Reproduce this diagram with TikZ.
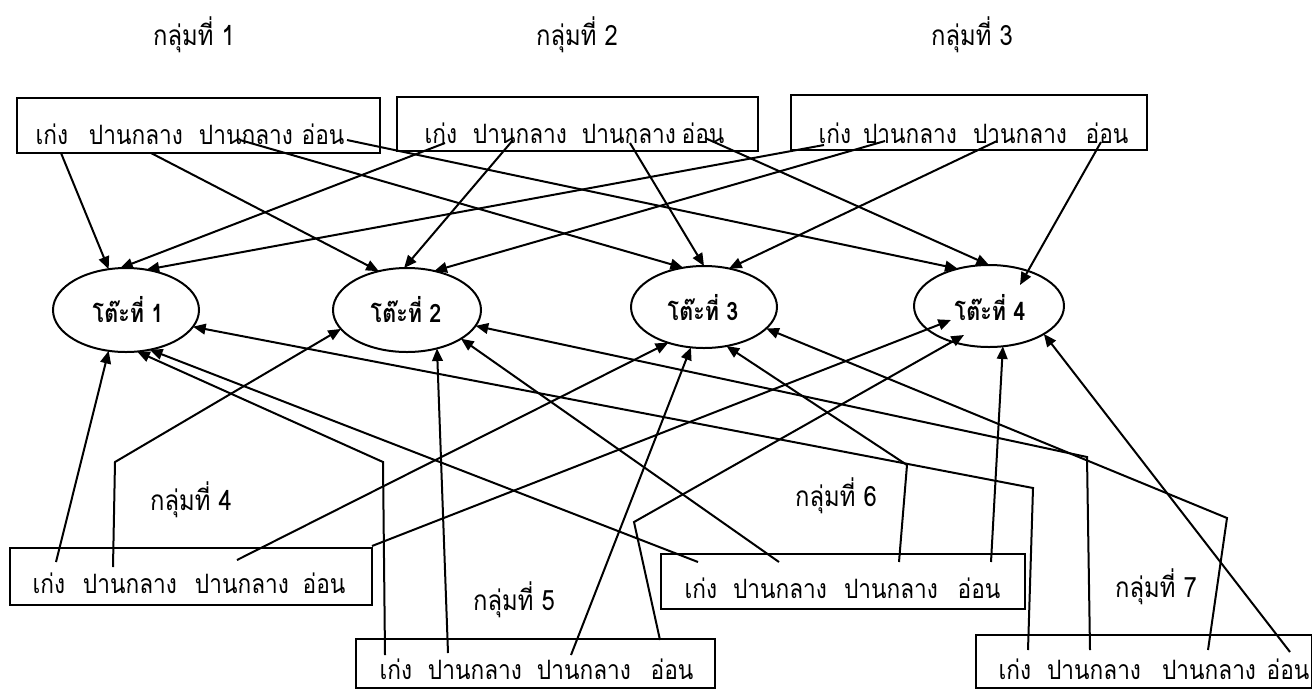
\documentclass[tikz,border=0pt]{standalone}
\usepackage{fontspec}
\newfontfamily\thai[Script=Thai,FakeStretch=0.85]{Loma}
\usetikzlibrary{arrows.meta,shapes.geometric}
\begin{document}
\begin{tikzpicture}[x=0.75pt,y=-0.75pt,
  ln/.style={line width=1.5pt},
  arr/.style={ln,-{Triangle[length=9.5pt,width=8pt]}},
  boxst/.style 2 args={draw,line width=1.5pt,inner sep=0pt,outer sep=0pt,
     minimum width=#1*0.75pt,minimum height=#2*0.75pt},
  tbl/.style 2 args={draw,ellipse,line width=1.5pt,inner sep=0pt,outer sep=0pt,
     minimum width=#1*0.75pt,minimum height=#2*0.75pt},
  word/.style={anchor=base,inner sep=0pt,font=\thai\fontsize{20}{22}\selectfont},
  grp/.style={anchor=base,inner sep=0pt,font=\thai\fontsize{21}{24}\selectfont},
  ttxt/.style={anchor=base,inner sep=0pt,font=\thai\bfseries\fontsize{19}{21}\selectfont}
]
\useasboundingbox (0,0) rectangle (1312,690);
\clip (0,0) rectangle (1312,690);

% group labels
\node[grp] (g1) at (194,45) {กลุ่มที่ 1};
\node[grp] (g2) at (577,45) {กลุ่มที่ 2};
\node[grp] (g3) at (972,45) {กลุ่มที่ 3};
\node[grp] (g4) at (191,510) {กลุ่มที่ 4};
\node[grp] (g5) at (514,610) {กลุ่มที่ 5};
\node[grp] (g6) at (836,506) {กลุ่มที่ 6};
\node[grp] (g7) at (1156,597) {กลุ่มที่ 7};

% boxes
\node[boxst={363}{55}] (B1) at (198.5,125.5) {};
\node[boxst={361}{54}] (B2) at (577.5,124) {};
\node[boxst={356}{55}] (B3) at (969,122.5) {};
\node[boxst={362}{57}] (B4) at (191,576.5) {};
\node[boxst={359}{49}] (B5) at (535.5,663.5) {};
\node[boxst={364}{55}] (B6) at (843,581.5) {};
\node[boxst={336}{53}] (B7) at (1144,661.5) {};

% words
\node[word] (w1a) at (52,144) {เก่ง};
\node[word] (w1b) at (136,144) {ปานกลาง};
\node[word] (w1c) at (246,144) {ปานกลาง};
\node[word] (w1d) at (323,144) {อ่อน};
\node[word] (w2a) at (441,143) {เก่ง};
\node[word] (w2b) at (520,143) {ปานกลาง};
\node[word] (w2c) at (629,143) {ปานกลาง};
\node[word] (w2d) at (703,143) {อ่อน};
\node[word] (w3a) at (835,143) {เก่ง};
\node[word] (w3b) at (910,143) {ปานกลาง};
\node[word] (w3c) at (1020,143) {ปานกลาง};
\node[word] (w3d) at (1107,143) {อ่อน};
\node[word] (w4a) at (49,593) {เก่ง};
\node[word] (w4b) at (130,593) {ปานกลาง};
\node[word] (w4c) at (242,593) {ปานกลาง};
\node[word] (w4d) at (324,593) {อ่อน};
\node[word] (w5a) at (396,679) {เก่ง};
\node[word] (w5b) at (475,679) {ปานกลาง};
\node[word] (w5c) at (584,679) {ปานกลาง};
\node[word] (w5d) at (672,679) {อ่อน};
\node[word] (w6a) at (701,598) {เก่ง};
\node[word] (w6b) at (780,598) {ปานกลาง};
\node[word] (w6c) at (891,598) {ปานกลาง};
\node[word] (w6d) at (979,598) {อ่อน};
\node[word] (w7a) at (1015,679) {เก่ง};
\node[word] (w7b) at (1094,679) {ปานกลาง};
\node[word] (w7c) at (1209,679) {ปานกลาง};
\node[word] (w7d) at (1288,679) {อ่อน};

% tables
\node[tbl={146}{84}] (T1) at (126,310) {};
\node[tbl={148}{84}] (T2) at (407,310) {};
\node[tbl={146}{82}] (T3) at (704,307) {};
\node[tbl={150}{82}] (T4) at (989,306) {};
\node[ttxt] (t1) at (128,322) {โต๊ะที่ 1};
\node[ttxt] (t2) at (406,322) {โต๊ะที่ 2};
\node[ttxt] (t3) at (703,320) {โต๊ะที่ 3};
\node[ttxt] (t4) at (990,320) {โต๊ะที่ 4};

% start / bend coordinates
\coordinate (s1) at (61,153);
\coordinate (s2) at (151,153);
\coordinate (s3) at (240,140);
\coordinate (s4) at (347,140);
\coordinate (s5) at (445,143);
\coordinate (s6) at (513,140);
\coordinate (s7) at (630,143);
\coordinate (s8) at (705,138);
\coordinate (s9) at (824,145);
\coordinate (s10) at (885,141);
\coordinate (s11) at (997,141);
\coordinate (s12) at (1101,142);
\coordinate (e12) at (1020,285);
\coordinate (s13) at (56,562);
\coordinate (s14) at (113,567);
\coordinate (k14) at (115,462);
\coordinate (s15) at (237,560);
\coordinate (s16) at (372,546);
\coordinate (e16) at (951,320);
\coordinate (s17) at (385,655);
\coordinate (k17) at (383,462);
\coordinate (s18) at (448,653);
\coordinate (s19) at (571,655);
\coordinate (s20) at (660,640);
\coordinate (k20) at (634,522);
\coordinate (e20) at (964,335);
\coordinate (s21) at (698,562);
\coordinate (s22) at (779,562);
\coordinate (s23) at (899,562);
\coordinate (k23) at (907,465);
\coordinate (s24) at (991,562);
\coordinate (s25) at (1028,650);
\coordinate (k25) at (1033,488);
\coordinate (s26) at (1090,650);
\coordinate (k26) at (1087,457);
\coordinate (s27) at (1208,650);
\coordinate (k27) at (1227,518);
\coordinate (s28) at (1290,652);

% top connectors
\draw[arr] (s1) -- (T1.113);
\draw[arr] (s2) -- (T2.126);
\draw[arr] (s3) -- (T3.118);
\draw[arr] (s4) -- (T4.130);
\draw[arr] (s5) -- (T1.98);
\draw[arr] (s6) -- (T2.94);
\draw[arr] (s7) -- (T3.90);
\draw[arr] (s8) -- (T4.90);
\draw[arr] (s9) -- (T1.63);
\draw[arr] (s10) -- (T2.55);
\draw[arr] (s11) -- (T3.57);
\draw[arr] (s12) -- (e12);

% bottom connectors
\draw[arr] (s13) -- (T1.247);
\draw[arr] (s14) -- (k14) -- (T2.196);
\draw[arr] (s15) -- (T3.225);
\draw[arr] (s16) -- (e16);
\draw[arr] (s17) -- (k17) -- (T1.285);
\draw[arr] (s18) -- (T2.308);
\draw[arr] (s19) -- (T3.252);
\draw[arr] (s20) -- (k20) -- (e20);
\draw[arr] (s21) -- (T1.301);
\draw[arr] (s22) -- (T2.332);
\draw[arr] (s23) -- (k23) -- (T3.300);
\draw[arr] (s24) -- (T4.289);
\draw[arr] (s25) -- (k25) -- (T1.346);
\draw[arr] (s26) -- (k26) -- (T2.347);
\draw[arr] (s27) -- (k27) -- (T3.341);
\draw[arr] (s28) -- (T4.333);
\end{tikzpicture}
\end{document}
